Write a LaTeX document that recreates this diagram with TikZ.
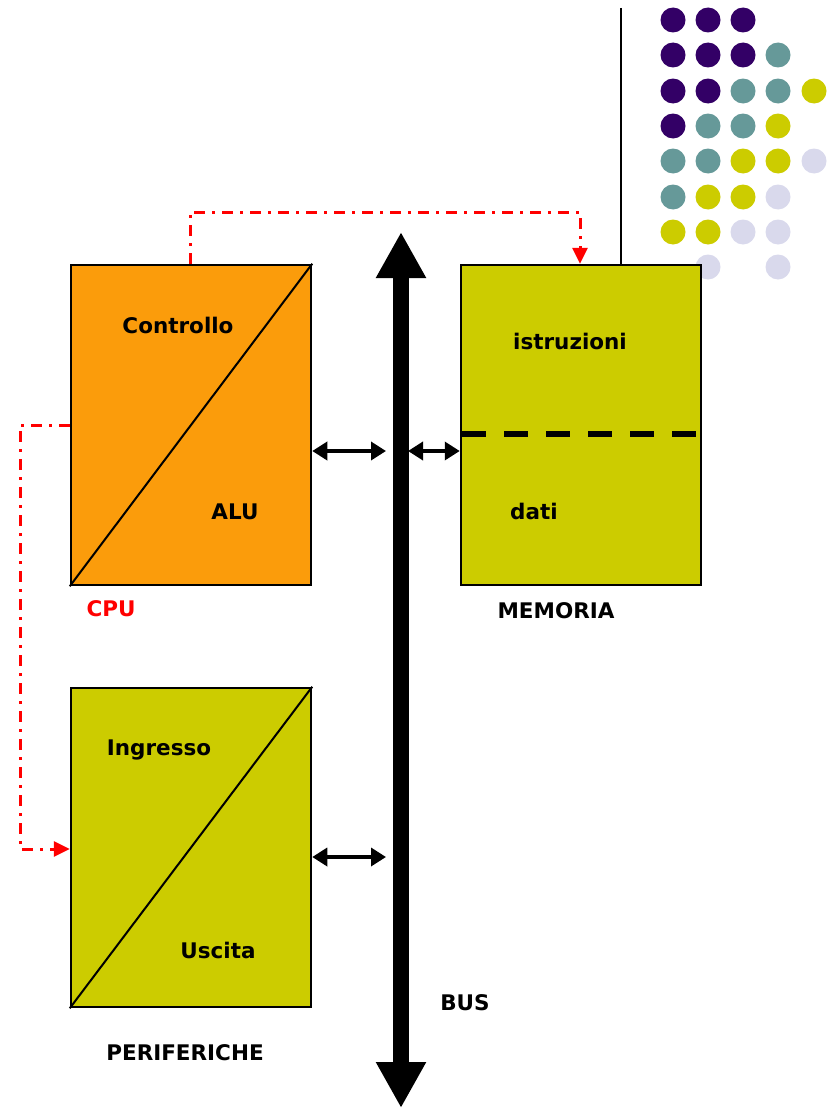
\documentclass[tikz,border=0pt]{standalone}
\usepackage{fontspec}
\setmainfont{DejaVu Sans}
\usetikzlibrary{arrows.meta}
\definecolor{orangebox}{HTML}{FB9C0B}
\definecolor{olive}{HTML}{CCCC00}
\definecolor{dpurple}{HTML}{330066}
\definecolor{dteal}{HTML}{669999}
\definecolor{dlav}{HTML}{D9D9EC}
\tikzset{
  box/.style={draw=black, line width=2.5pt, minimum width=240pt, minimum height=320pt, inner sep=0pt},
  lbl/.style={font=\fontsize{21.5}{25}\selectfont\bfseries, anchor=base, inner sep=0pt},
  dbl/.style={line width=3.5pt, {Triangle[length=15pt,width=18pt]}-{Triangle[length=15pt,width=18pt]}},
  ctrl/.style={red, line width=3pt, dash pattern=on 11pt off 7pt on 3pt off 7pt, -{Triangle[length=16pt,width=15pt]}},
}
\begin{document}
\begin{tikzpicture}[x=1pt,y=-1pt]
\useasboundingbox (0,0) rectangle (827,1108);
% decorative dots
\foreach \c/\x/\y in {dpurple/673/20, dpurple/708/20, dpurple/743/20,
  dpurple/673/55, dpurple/708/55, dpurple/743/55, dteal/778/55,
  dpurple/673/91, dpurple/708/91, dteal/743/91, dteal/778/91, olive/814/91,
  dpurple/673/126, dteal/708/126, dteal/743/126, olive/778/126,
  dteal/673/161, dteal/708/161, olive/743/161, olive/778/161, dlav/814/161,
  dteal/673/197, olive/708/197, olive/743/197, dlav/778/197,
  olive/673/232, olive/708/232, dlav/743/232, dlav/778/232,
  dlav/708/267, dlav/778/267}
  \fill[\c] (\x,\y) circle (12.5pt);
% boxes
\node[box, fill=orangebox] (cpu) at (191,425) {};
\node[box, fill=olive] (mem) at (581,425) {};
\node[box, fill=olive, minimum height=319pt] (per) at (191,847.5) {};
\draw[line width=2pt] (cpu.south west) -- (cpu.north east);
\draw[line width=2pt] (per.south west) -- (per.north east);
% vertical line above memory
\coordinate (vtop) at (621,8);
\draw[line width=2pt] (vtop) -- (vtop |- mem.north);
% dashed separator in memory
\coordinate (sepL) at (462,434);
\coordinate (sepR) at (697,434);
\draw[line width=6pt, dash pattern=on 24pt off 18pt] (sepL) -- (sepR);
% bus
\coordinate (busT) at (401,232);
\coordinate (busB) at (401,1108);
\draw[line width=16pt, {Triangle[length=46pt,width=47pt]}-{Triangle[length=46pt,width=47pt]}] (busT) -- (busB);
% double arrows
\coordinate (b1) at (386,451);
\coordinate (b2) at (408,451);
\coordinate (b3) at (386,857);
\draw[dbl] (cpu.east |- b1) -- (b1);
\draw[dbl] (b2) -- (mem.west |- b2);
\draw[dbl] (per.east |- b3) -- (b3);
% control lines
\coordinate (c1) at (190,212);
\coordinate (c2) at (580,212);
\draw[ctrl] (cpu.north -| c1) -- (c1) -- (c2) -- (c2 |- mem.north);
\coordinate (d1) at (20,425);
\coordinate (d2) at (20,849);
\draw[ctrl] (cpu.west |- d1) -- (d1) -- (d2) -- (per.west |- d2);
% labels
\node[lbl] (tctrl) at (178,333) {Controllo};
\node[lbl] (talu) at (235,519) {ALU};
\node[lbl, text=red] (tcpu) at (111,616) {CPU};
\node[lbl] (tistr) at (570,349) {istruzioni};
\node[lbl] (tdati) at (534,519) {dati};
\node[lbl] (tmem) at (556,618) {MEMORIA};
\node[lbl] (ting) at (159,755) {Ingresso};
\node[lbl] (tusc) at (218,958) {Uscita};
\node[lbl] (tper) at (185,1060) {PERIFERICHE};
\node[lbl] (tbus) at (465,1010) {BUS};
\end{tikzpicture}
\end{document}
